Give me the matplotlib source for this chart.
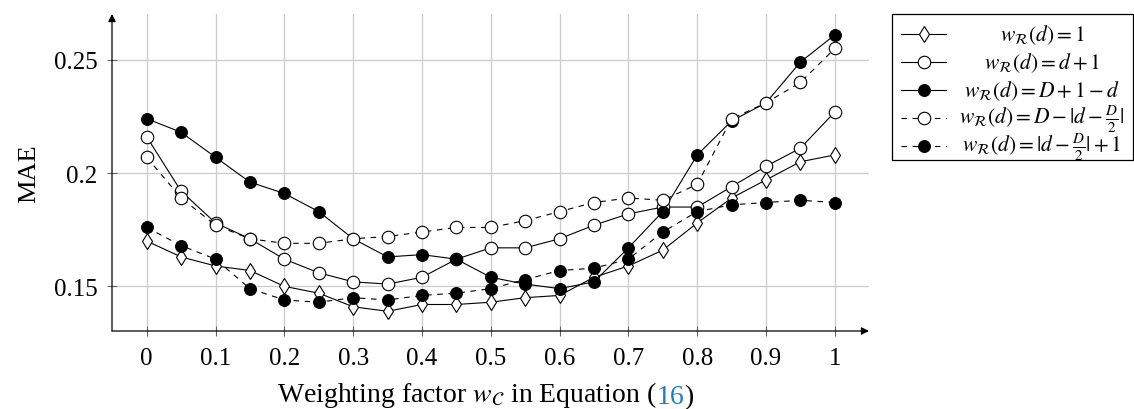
import matplotlib
matplotlib.use("Agg")
import matplotlib.pyplot as plt
from matplotlib.lines import Line2D
from matplotlib.patches import Rectangle

plt.rcParams['font.family'] = ['Liberation Serif', 'DejaVu Serif']
plt.rcParams['mathtext.fontset'] = 'stix'

# weighting factor w_C
weights = [0, 0.05, 0.1, 0.15, 0.2, 0.25, 0.3, 0.35, 0.4, 0.45, 0.5,
           0.55, 0.6, 0.65, 0.7, 0.75, 0.8, 0.85, 0.9, 0.95, 1.0]

# MAE for each w_R(d)
mae_const = [0.170, 0.163, 0.159, 0.157, 0.150, 0.147, 0.141, 0.139, 0.142, 0.142, 0.143,
             0.145, 0.146, 0.154, 0.159, 0.166, 0.178, 0.189, 0.197, 0.205, 0.208]
mae_lin = [0.216, 0.192, 0.178, 0.171, 0.162, 0.156, 0.152, 0.151, 0.154, 0.162, 0.167,
           0.167, 0.171, 0.177, 0.182, 0.185, 0.185, 0.194, 0.203, 0.211, 0.227]
mae_rev = [0.224, 0.218, 0.207, 0.196, 0.191, 0.183, 0.171, 0.163, 0.164, 0.162, 0.154,
           0.151, 0.149, 0.152, 0.167, 0.183, 0.208, 0.223, 0.231, 0.249, 0.261]
mae_tri = [0.207, 0.189, 0.177, 0.171, 0.169, 0.169, 0.171, 0.172, 0.174, 0.176, 0.176,
           0.179, 0.183, 0.187, 0.189, 0.188, 0.195, 0.224, 0.231, 0.240, 0.255]
mae_vee = [0.176, 0.168, 0.162, 0.149, 0.144, 0.143, 0.145, 0.144, 0.146, 0.147, 0.149,
           0.153, 0.157, 0.158, 0.162, 0.174, 0.183, 0.186, 0.187, 0.188, 0.187]

labels = [r'$w_{\mathcal{R}}(d) = 1$',
          r'$w_{\mathcal{R}}(d) = d + 1$',
          r'$w_{\mathcal{R}}(d) = D + 1 - d$',
          r'$w_{\mathcal{R}}(d) = D - |d - \frac{D}{2}|$',
          r'$w_{\mathcal{R}}(d) = |d - \frac{D}{2}| + 1$']

xticks = [0, 0.1, 0.2, 0.3, 0.4, 0.5, 0.6, 0.7, 0.8, 0.9, 1.0]
xticklabels = ['0', '0.1', '0.2', '0.3', '0.4', '0.5', '0.6', '0.7', '0.8', '0.9', '1']
yticks = [0.15, 0.2, 0.25]
yticklabels = ['0.15', '0.2', '0.25']

series = [mae_const, mae_lin, mae_rev, mae_tri, mae_vee]
dash = (0, (5, 5))
styles = [
    dict(ls='-', marker='d', ms=8, mfc='white'),
    dict(ls='-', marker='o', ms=9, mfc='white'),
    dict(ls='-', marker='o', ms=8.5, mfc='black'),
    dict(ls=dash, marker='o', ms=9, mfc='white'),
    dict(ls=dash, marker='o', ms=8.5, mfc='black'),
]

W, H = 1134, 410
fig = plt.figure(figsize=(W / 100, H / 100), dpi=100)
ax = fig.add_axes([112 / W, 1 - 332 / H, (869 - 112) / W, (332 - 15) / H])

for vals, st in zip(series, styles):
    ax.plot(weights, vals, color='black', lw=0.8, mec='black', mew=0.8,
            zorder=3, **st)

ax.set_xlim(-0.0504, 1.0496)
ax.set_ylim(0.1303, 0.2702)
ax.set_xticks(xticks)
ax.set_xticklabels(xticklabels)
ax.set_yticks(yticks)
ax.set_yticklabels(yticklabels)
ax.grid(True, color='#cccccc', lw=0.9)
ax.set_axisbelow(True)
for s in ax.spines.values():
    s.set_visible(False)
ax.tick_params(direction='inout', length=7, width=0.8, color='#666666',
               labelsize=18)
ax.tick_params(axis='x', pad=8)
ax.tick_params(axis='y', pad=7)

# axis lines with arrow heads
arrow = dict(arrowstyle='-|>', color='black', lw=0.9, mutation_scale=11,
             shrinkA=0, shrinkB=0)
ax.annotate('', xy=(1, 0), xytext=(0, 0), xycoords='axes fraction', arrowprops=arrow)
ax.annotate('', xy=(0, 1), xytext=(0, 0), xycoords='axes fraction', arrowprops=arrow)

ax.set_ylabel('MAE', fontsize=19, labelpad=10)

# x label with the blue equation reference
t1 = fig.text(277 / W, 8 / H, r'Weighting factor $w_{\mathcal{C}}$ in Equation (',
              fontsize=20, va='baseline')
t2 = ax.annotate('16', xy=(1, 0), xycoords=t1, fontsize=20, color='#1f7fc0',
                 va='bottom', ha='left')
ax.annotate(')', xy=(1, 0), xycoords=t2, fontsize=20, va='bottom', ha='left')

# legend drawn by hand so the labels can be centred
def fx(px):
    return px / W

def fy(py):
    return 1 - py / H

fig.patches.append(Rectangle((fx(892), fy(161)), fx(1133) - fx(892), fy(15) - fy(161),
                             transform=fig.transFigure, fill=False, ec='black', lw=0.9))
for i, (lab, st) in enumerate(zip(labels, styles)):
    yc = 35 + 28 * i
    fig.lines.append(Line2D([fx(901), fx(946)], [fy(yc), fy(yc)], transform=fig.transFigure,
                            color='black', lw=0.8, ls=st['ls']))
    fig.lines.append(Line2D([fx(923.5)], [fy(yc)], transform=fig.transFigure, ls='none',
                            marker=st['marker'], ms=st['ms'], mfc=st['mfc'],
                            mec='black', mew=0.8))
    fig.text(fx(1042), fy(yc), lab, fontsize=15.5, ha='center', va='center')

fig.savefig('out.png', dpi=100)
